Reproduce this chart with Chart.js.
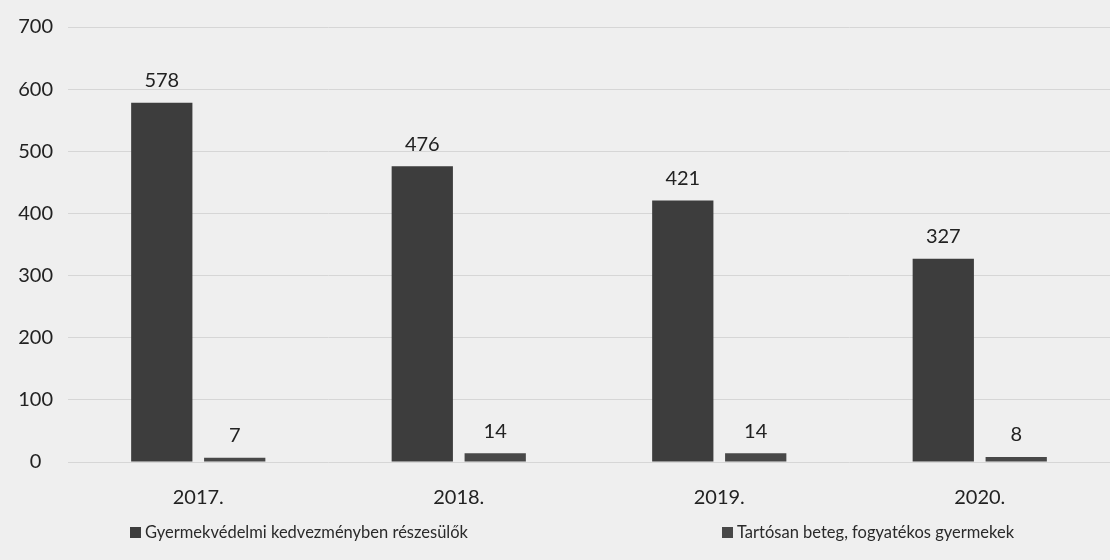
<!DOCTYPE html>
<html lang="hu">
<head>
    <meta charset="UTF-8">
    <title>Gyermekvédelmi kedvezmény</title>
    <script src="https://cdn.jsdelivr.net/npm/chart.js"></script>
    <style>
        body {
            margin: 0;
            background-color: #efefef;
            font-family: Lato, sans-serif;
        }

        .wrap {
            position: relative;
            width: 1110px;
            height: 560px;
        }

        .legend {
            position: absolute;
            top: 522px;
            left: 0;
            width: 1110px;
            font-size: 16.5px;
            color: #2a2a2a;
        }

        .legend span {
            position: absolute;
            white-space: nowrap;
        }

        .legend i {
            display: inline-block;
            width: 11px;
            height: 11px;
            margin-right: 4px;
            vertical-align: 0;
        }
    </style>
</head>
<body>
    <div class="wrap">
        <canvas id="chart" width="1110" height="560"></canvas>
        <div class="legend" id="legend"></div>
    </div>

    <script>
        const years = ["2017.", "2018.", "2019.", "2020."];
        const seriesNames = ["Gyermekvédelmi kedvezményben részesülők", "Tartósan beteg, fogyatékos gyermekek"];
        const kedvezmeny = [578, 476, 421, 327];
        const tartosanBeteg = [7, 14, 14, 8];
        const barColors = ["#3d3d3d", "#484848"];

        // value labels above each bar
        const valueLabels = {
            id: "valueLabels",
            afterDatasetsDraw(chart) {
                const ctx = chart.ctx;
                ctx.save();
                ctx.font = "20px Lato, sans-serif";
                ctx.fillStyle = "#222";
                ctx.textAlign = "center";
                ctx.textBaseline = "bottom";
                chart.data.datasets.forEach((ds, i) => {
                    chart.getDatasetMeta(i).data.forEach((bar, j) => {
                        ctx.fillText(ds.data[j], bar.x, bar.y - 12);
                    });
                });
                ctx.restore();
            }
        };

        new Chart(document.getElementById("chart"), {
            type: "bar",
            data: {
                labels: years,
                datasets: [
                    { label: seriesNames[0], data: kedvezmeny, backgroundColor: barColors[0] },
                    { label: seriesNames[1], data: tartosanBeteg, backgroundColor: barColors[1] }
                ]
            },
            options: {
                responsive: false,
                animation: false,
                categoryPercentage: 0.56,
                barPercentage: 0.84,
                layout: { padding: { top: 27, right: -12, bottom: 34, left: 0 } },
                scales: {
                    x: {
                        grid: { display: false },
                        border: { display: false },
                        ticks: { color: "#222", font: { family: "Lato", size: 20 }, padding: 16 }
                    },
                    y: {
                        min: 0,
                        max: 700,
                        ticks: { stepSize: 100, color: "#222", font: { family: "Lato", size: 20 }, crossAlign: "center", padding: 15 },
                        grid: { color: "#d6d6d6", drawTicks: false },
                        border: { display: false },
                        afterFit(scale) { scale.width = 68; }
                    }
                },
                plugins: {
                    legend: { display: false },
                    tooltip: { enabled: false }
                }
            },
            plugins: [valueLabels]
        });

        // legend laid out in wide columns like the original
        const legendLeft = [130, 722];
        const legend = document.getElementById("legend");
        seriesNames.forEach((name, i) => {
            const item = document.createElement("span");
            item.style.left = legendLeft[i] + "px";
            item.innerHTML = '<i style="background:' + barColors[i] + '"></i>' + name;
            legend.appendChild(item);
        });
    </script>
</body>
</html>
